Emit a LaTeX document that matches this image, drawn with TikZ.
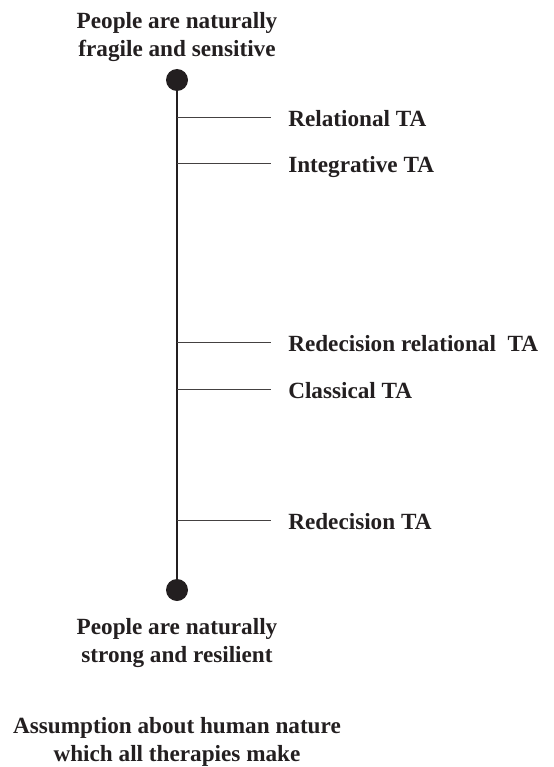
\documentclass[tikz,border=0pt]{standalone}
\usepackage{fontspec}
\setmainfont{Liberation Serif}
\definecolor{ink}{HTML}{231F20}
\begin{document}
\begin{tikzpicture}[x=0.75pt,y=-0.75pt,
  txt/.style={font=\fontsize{17.4}{21}\selectfont\bfseries, text=ink, align=center, inner sep=0pt},
  lbl/.style={font=\fontsize{17.4}{21}\selectfont\bfseries, text=ink, inner sep=0pt, anchor=base west},
  dot/.style={circle, fill=ink, minimum size=16.5pt, inner sep=0pt},
  spine/.style={draw=ink, line width=0.8pt},
  branch/.style={draw=ink!85, line width=0.7pt}]
\useasboundingbox (0,0) rectangle (553,767);
\node[txt] (top) at (177,37) {People are naturally\\fragile and sensitive};
\node[dot] (d1) at (177,80) {};
\node[dot] (d2) at (177,590) {};
\draw[spine] (d1.center) -- (d2.center);
\foreach \n/\yy/\t in {a/117/Relational TA, b/163/Integrative TA, c/342/{Redecision relational\ \ TA}, d/389/Classical TA, e/520/Redecision TA}{
  \coordinate (s\n) at (177,\yy);
  \coordinate (e\n) at (271,\yy);
  \draw[branch] (s\n) -- (e\n);
  \node[lbl] (l\n) at (288,\yy+9) {\t};
}
\node[txt] (bot) at (177,643) {People are naturally\\strong and resilient};
\node[txt] (foot) at (177,742) {Assumption about human nature\\which all therapies make};
\end{tikzpicture}
\end{document}
